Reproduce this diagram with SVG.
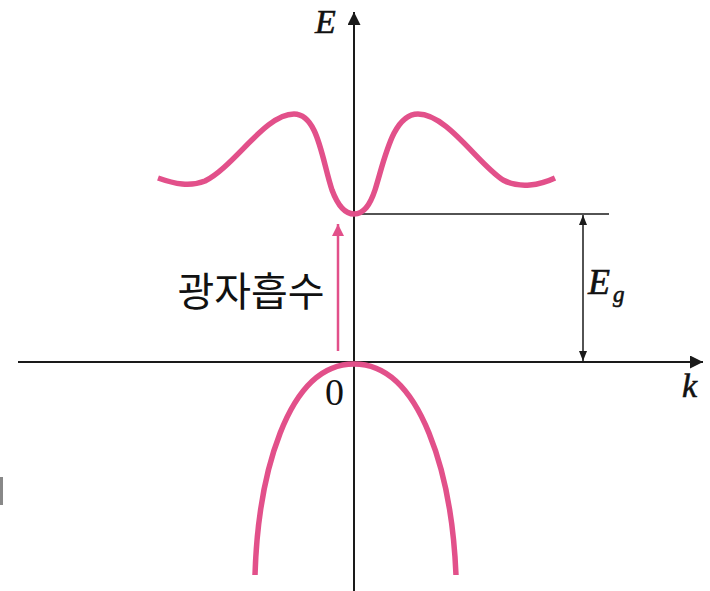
<svg xmlns="http://www.w3.org/2000/svg" width="710" height="591" viewBox="0 0 710 591">
<style>
.ax{stroke:#1a1a1a;stroke-width:2;fill:none}
.thin{stroke:#1a1a1a;stroke-width:1.5;fill:none}
.band{stroke:#E2508A;stroke-width:5.5;fill:none;stroke-linecap:butt;stroke-linejoin:round}
.lbl{font-family:"Liberation Serif","Times New Roman",serif;font-style:italic;fill:#111;stroke:#111;stroke-width:0.6}
.num{font-family:"Liberation Serif","Times New Roman",serif;fill:#111}
.kr{font-family:"Noto Sans CJK KR","Noto Sans",sans-serif;font-weight:400;fill:#111}
</style>
<defs>
<marker id="ah" viewBox="0 0 10 10" refX="10" refY="5" markerWidth="10" markerHeight="10" markerUnits="userSpaceOnUse" orient="auto">
<path d="M0,1 L10,5 L0,9 Z" fill="#1a1a1a"/>
</marker>
<marker id="axh" viewBox="0 0 10 10" refX="10" refY="5" markerWidth="20" markerHeight="13" markerUnits="userSpaceOnUse" orient="auto">
<path d="M0,0 L10,5 L0,10 Z" fill="#1a1a1a"/>
</marker>
<marker id="ph" viewBox="0 0 10 10" refX="10" refY="5" markerWidth="16" markerHeight="12" markerUnits="userSpaceOnUse" orient="auto">
<path d="M0,0 L10,5 L0,10 Z" fill="#E2508A"/>
</marker>
</defs>
<rect width="710" height="591" fill="#fff"/>
<g id="connectors">
<line class="ax" x1="354" y1="591" x2="354" y2="12" marker-end="url(#axh)"/>
<line class="ax" x1="18" y1="362" x2="703" y2="362" marker-end="url(#axh)"/>
<line class="thin" x1="354" y1="214" x2="609" y2="214"/>
<line class="thin" x1="583" y1="290" x2="583" y2="215" marker-end="url(#ah)"/>
<line class="thin" x1="583" y1="290" x2="583" y2="361" marker-end="url(#ah)"/>
<line x1="338" y1="351" x2="338" y2="224" stroke="#E2508A" stroke-width="2.5" marker-end="url(#ph)"/>
</g>
<g id="conduction-band">
<path class="band" d="M158,178 C175,184 190,187 205,181 C235,166 265,114 294,114 C318,114 322,160 332,190 C338,206 346,214 354,214 C364,214 370,205 375,190 C385,158 393,114 418,114 C447,114 478,164 503,180 C520,189 540,185 555,178"/>
</g>
<g id="valence-band">
<path class="band" d="M255,575 C258,478 286,364 354,364 C422,364 452,478 456,575"/>
</g>
<g id="labels">
<text class="lbl" x="315" y="33" font-size="34">E</text>
<text class="lbl" x="682" y="397" font-size="34">k</text>
<text class="num" x="325" y="405" font-size="38">0</text>
<text class="lbl" x="588" y="294" font-size="36">E</text>
<text class="lbl" x="613" y="302" font-size="23">g</text>
<text class="kr" x="251" y="306" font-size="40" text-anchor="middle">광자흡수</text>
</g>
<rect id="stray-mark" x="0" y="477" width="3" height="28" fill="#888"/>
</svg>
